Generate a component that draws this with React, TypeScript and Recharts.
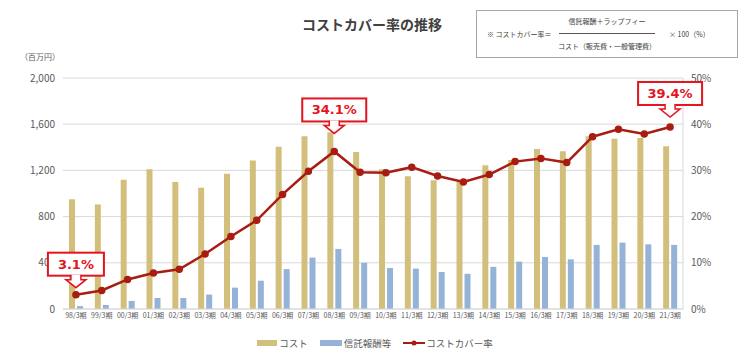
import React from 'react';
import { ComposedChart, Bar, Line, XAxis, YAxis, CartesianGrid, Legend, LabelList } from 'recharts';

const categories = ['98/3期','99/3期','00/3期','01/3期','02/3期','03/3期','04/3期','05/3期','06/3期','07/3期','08/3期','09/3期','10/3期','11/3期','12/3期','13/3期','14/3期','15/3期','16/3期','17/3期','18/3期','19/3期','20/3期','21/3期'];
const costValues = [950, 905, 1120, 1210, 1100, 1050, 1170, 1285, 1405, 1495, 1530, 1360, 1210, 1150, 1115, 1105, 1245, 1290, 1385, 1365, 1495, 1475, 1480, 1410];
const trustFees = [25, 35, 70, 95, 95, 125, 185, 245, 345, 445, 520, 400, 355, 350, 320, 305, 365, 410, 450, 430, 555, 575, 560, 555];
const coverRates = [3.1, 4.0, 6.4, 7.8, 8.6, 11.9, 15.7, 19.2, 24.8, 29.8, 34.1, 29.6, 29.5, 30.7, 28.8, 27.5, 29.1, 31.9, 32.6, 31.7, 37.3, 38.9, 37.9, 39.4];
const leftTicks = [0, 400, 800, 1200, 1600, 2000];
const rightTicks = [0, 10, 20, 30, 40, 50];
const seriesNames = ['コスト', '信託報酬等', 'コストカバー率'];
const highlighted = [0, 10, 23];

const data = categories.map((c, i) => ({ period: c, cost: costValues[i], fee: trustFees[i], rate: coverRates[i] }));

const COST = '#D3BF7C';
const FEE = '#95B3D7';
const LINE = '#A81C12';
const CALLOUT = '#E3141E';
const AXIS_TEXT = '#595959';
const FONT = '"Noto Sans CJK JP", "Noto Sans", sans-serif';

const calloutStyle: Record<number, { w: number; gap: number }> = {
  0: { w: 56, gap: 7 },
  10: { w: 64, gap: 18 },
  23: { w: 64, gap: 10 },
};

const Callout = (props: any) => {
  const { x, y, index, value } = props;
  if (!highlighted.includes(index)) return null;
  const st = calloutStyle[index];
  const tipY = y - st.gap;
  const boxBottom = tipY - 12;
  const boxTop = boxBottom - 23;
  const left = x - st.w / 2;
  const arrow = `M ${x - 5} ${boxBottom - 1} L ${x - 5} ${boxBottom + 4} L ${x - 10} ${boxBottom + 4} L ${x} ${tipY} L ${x + 10} ${boxBottom + 4} L ${x + 5} ${boxBottom + 4} L ${x + 5} ${boxBottom - 1}`;
  return (
    <g>
      <rect x={left} y={boxTop} width={st.w} height={23} fill="#fff" stroke={CALLOUT} strokeWidth={2} />
      <path d={arrow} fill="#fff" stroke={CALLOUT} strokeWidth={1.5} strokeLinejoin="miter" />
      <text x={x} y={boxTop + 16} textAnchor="middle" fill={CALLOUT} fontSize={13} fontWeight="bold" fontFamily='"DejaVu Sans", sans-serif'>
        {Number(value).toFixed(1)}%
      </text>
    </g>
  );
};

const LegendContent = () => (
  <div style={{ height: 24, display: 'flex', justifyContent: 'center', alignItems: 'center', fontFamily: FONT, fontSize: 9.5, color: AXIS_TEXT, paddingLeft: 6 }}>
    <span style={{ display: 'inline-block', width: 20, height: 6, background: COST, marginRight: 2 }} />
    <span style={{ marginRight: 12 }}>{seriesNames[0]}</span>
    <span style={{ display: 'inline-block', width: 22, height: 6, background: FEE, marginRight: 2 }} />
    <span style={{ marginRight: 12 }}>{seriesNames[1]}</span>
    <svg width={22} height={8} style={{ marginRight: 1 }}>
      <line x1={0} y1={4} x2={22} y2={4} stroke={LINE} strokeWidth={2} />
      <circle cx={11} cy={4} r={2.5} fill={LINE} />
    </svg>
    <span>{seriesNames[2]}</span>
  </div>
);

const nowrap: React.CSSProperties = { whiteSpace: 'nowrap' };

export default function App() {
  return (
    <div style={{ position: 'absolute', left: 0, top: 0, width: 744, height: 355, background: '#fff', fontFamily: FONT }}>
      <div style={{ position: 'absolute', left: 0, width: 744, top: 14, textAlign: 'center', fontSize: 14, fontWeight: 'bold', color: '#404040' }}>
        コストカバー率の推移
      </div>
      <div style={{ position: 'absolute', left: 476, top: 10, width: 262, height: 48, border: '1px solid #a6a6a6', boxSizing: 'border-box', fontSize: 7, color: '#404040' }}>
        <div style={{ ...nowrap, position: 'absolute', left: 10, top: 18 }}>※ コストカバー率＝</div>
        <div style={{ ...nowrap, position: 'absolute', left: 80, width: 100, top: 5, textAlign: 'center' }}>信託報酬＋ラップフィー</div>
        <div style={{ position: 'absolute', left: 82, width: 96, top: 22, height: 1, background: '#595959' }} />
        <div style={{ ...nowrap, position: 'absolute', left: 80, width: 100, top: 30, textAlign: 'center' }}>コスト（販売費・一般管理費）</div>
        <div style={{ ...nowrap, position: 'absolute', left: 192, top: 18 }}>× 100（%）</div>
      </div>
      <div style={{ position: 'absolute', left: 20, top: 51, fontSize: 8, color: AXIS_TEXT }}>（百万円）</div>
      <ComposedChart width={744} height={355} data={data} margin={{ top: 78, right: 0, bottom: 0, left: 0 }} barGap={2} barCategoryGap={0} style={{ position: 'absolute', left: 0, top: 0 }}>
        <CartesianGrid yAxisId="left" vertical={false} stroke="#d9d9d9" />
        <XAxis dataKey="period" interval={0} height={22} tickLine={false} tickSize={2} tickMargin={2} axisLine={{ stroke: '#d9d9d9' }} tick={{ fontSize: 7, fill: AXIS_TEXT, fontFamily: FONT }} />
        <YAxis yAxisId="left" width={63} domain={[0, 2000]} ticks={leftTicks} axisLine={false} tickLine={false} tickFormatter={(v: number) => v.toLocaleString('en-US')} tick={{ fontSize: 10, fill: AXIS_TEXT, fontFamily: FONT }} />
        <YAxis yAxisId="right" orientation="right" width={61} domain={[0, 50]} ticks={rightTicks} axisLine={{ stroke: '#d9d9d9' }} tickLine={false} tickFormatter={(v: number) => `${v}%`} tick={{ fontSize: 10, fill: AXIS_TEXT, fontFamily: FONT }} />
        <Legend verticalAlign="bottom" height={24} content={<LegendContent />} />
        <Bar yAxisId="left" dataKey="cost" name={seriesNames[0]} fill={COST} barSize={6} isAnimationActive={false} />
        <Bar yAxisId="left" dataKey="fee" name={seriesNames[1]} fill={FEE} barSize={6} isAnimationActive={false} />
        <Line yAxisId="right" dataKey="rate" name={seriesNames[2]} stroke={LINE} strokeWidth={2.5} dot={{ r: 2.5, fill: LINE, stroke: LINE }} isAnimationActive={false}>
          <LabelList dataKey="rate" content={<Callout />} />
        </Line>
      </ComposedChart>
    </div>
  );
}
